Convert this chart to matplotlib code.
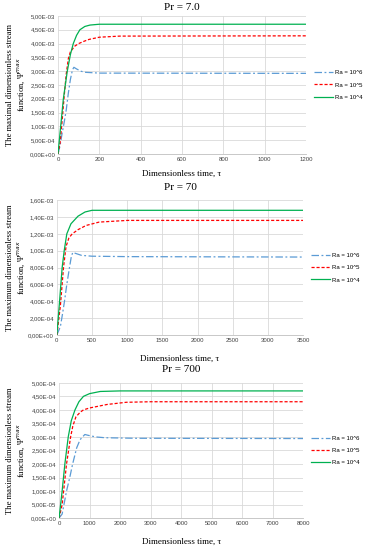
import matplotlib.pyplot as plt
from matplotlib.ticker import FixedLocator

# ---- data ----
series_labels = ['Ra = 10^6', 'Ra = 10^5', 'Ra = 10^4']

# Pr = 7.0  (values in 1e-3)
t7_ra6 = [0, 10, 20, 30, 40, 50, 60, 70, 77, 90, 110, 130, 200, 1200]
v7_ra6 = [0, 0.3, 0.75, 1.15, 1.6, 2.2, 2.7, 3.05, 3.14, 3.08, 3.0, 2.96, 2.93, 2.92]
t7_ra5 = [0, 10, 20, 30, 40, 50, 60, 80, 100, 125, 150, 200, 300, 1200]
v7_ra5 = [0, 0.4, 1.2, 2.1, 2.9, 3.45, 3.7, 3.9, 4.0, 4.08, 4.15, 4.23, 4.27, 4.28]
t7_ra4 = [0, 13, 26, 45, 60, 74, 90, 106, 130, 155, 200, 1200]
v7_ra4 = [0, 1.0, 2.0, 3.0, 3.6, 4.0, 4.3, 4.5, 4.62, 4.67, 4.7, 4.7]

# Pr = 70  (values in 1e-3)
t70_ra6 = [0, 50, 80, 108, 141, 179, 205, 226, 260, 350, 500, 1000, 3500]
v70_ra6 = [0, 0.1, 0.25, 0.4, 0.6, 0.8, 0.93, 0.98, 0.97, 0.945, 0.935, 0.93, 0.925]
t70_ra5 = [0, 50, 94, 130, 170, 217, 300, 415, 600, 1000, 3500]
v70_ra5 = [0, 0.35, 0.8, 1.05, 1.15, 1.2, 1.25, 1.3, 1.34, 1.36, 1.36]
t70_ra4 = [0, 38, 75, 104, 141, 200, 300, 400, 500, 3500]
v70_ra4 = [0, 0.4, 0.8, 1.0, 1.2, 1.32, 1.41, 1.46, 1.48, 1.48]

# Pr = 700  (values in 1e-4)
t700_ra6 = [0, 100, 244, 350, 444, 578, 689, 844, 950, 1200, 1500, 2500, 8000]
v700_ra6 = [0, 0.15, 1.0, 1.5, 2.0, 2.6, 2.9, 3.09, 3.06, 3.0, 2.97, 2.95, 2.94]
t700_ra5 = [0, 100, 244, 378, 450, 555, 700, 800, 1000, 1578, 2200, 3000, 8000]
v700_ra5 = [0, 0.5, 2.0, 3.0, 3.4, 3.75, 3.92, 4.0, 4.07, 4.2, 4.28, 4.3, 4.3]
t700_ra4 = [0, 100, 189, 300, 400, 522, 650, 800, 1000, 1350, 2000, 8000]
v700_ra4 = [0, 1.0, 2.0, 3.0, 3.6, 4.0, 4.3, 4.5, 4.6, 4.68, 4.7, 4.7]

yticks7 = [0, 0.5, 1.0, 1.5, 2.0, 2.5, 3.0, 3.5, 4.0, 4.5, 5.0]
ylabels7 = ['0,00E+00', '5,00E-04', '1,00E-03', '1,50E-03', '2,00E-03', '2,50E-03',
            '3,00E-03', '3,50E-03', '4,00E-03', '4,50E-03', '5,00E-03']
xticks7 = [0, 200, 400, 600, 800, 1000, 1200]

yticks70 = [0, 0.2, 0.4, 0.6, 0.8, 1.0, 1.2, 1.4, 1.6]
ylabels70 = ['0,00E+00', '2,00E-04', '4,00E-04', '6,00E-04', '8,00E-04',
             '1,00E-03', '1,20E-03', '1,40E-03', '1,60E-03']
xticks70 = [0, 500, 1000, 1500, 2000, 2500, 3000, 3500]

yticks700 = [0, 0.5, 1.0, 1.5, 2.0, 2.5, 3.0, 3.5, 4.0, 4.5, 5.0]
ylabels700 = ['0,00E+00', '5,00E-05', '1,00E-04', '1,50E-04', '2,00E-04', '2,50E-04',
              '3,00E-04', '3,50E-04', '4,00E-04', '4,50E-04', '5,00E-04']
xticks700 = [0, 1000, 2000, 3000, 4000, 5000, 6000, 7000, 8000]

BLUE = '#5B9BD5'
RED = '#FF0000'
GREEN = '#00B050'
SERIF = 'Liberation Serif'
SANS = 'Liberation Sans'


def draw_panel(fig, rect, series, xticks, yticks, ylabels, title, ylabel, title_y, xlabel_y):
    ax = fig.add_axes(rect)
    styles = [
        dict(color=BLUE, linestyle=(0, (6, 2, 1.5, 2)), lw=0.9),
        dict(color=RED, linestyle=(0, (2.5, 1.5)), lw=0.9),
        dict(color=GREEN, linestyle='-', lw=0.9),
    ]
    for (t, v), lab, st in zip(series, series_labels, styles):
        ax.plot(t, v, label=lab, **st)

    ax.set_xlim(xticks[0], xticks[-1])
    ax.set_ylim(yticks[0], yticks[-1])
    ax.xaxis.set_major_locator(FixedLocator(xticks))
    ax.yaxis.set_major_locator(FixedLocator(yticks))
    ax.set_xticklabels([str(x) for x in xticks], fontsize=4.3, family=SANS, color='#404040')
    ax.set_yticklabels(ylabels, fontsize=4.3, family=SANS, color='#404040')
    ax.tick_params(length=0, pad=2)
    ax.grid(True, color='#D9D9D9', lw=0.6)
    ax.set_axisbelow(True)
    for side in ['top', 'right', 'left']:
        ax.spines[side].set_visible(False)
    ax.spines['bottom'].set_color('#BFBFBF')
    ax.spines['bottom'].set_linewidth(0.6)

    ax.legend(loc='center left', bbox_to_anchor=(1.01, 0.5), frameon=False,
              prop={'family': SANS, 'size': 4.3}, handlelength=3.2, labelspacing=1.2,
              handletextpad=0.4)

    cx = rect[0] + rect[2] / 2
    fig.text(cx, title_y, title, ha='center', va='center', family=SERIF, fontsize=8)
    fig.text(cx, xlabel_y, 'Dimensionless time, \u03c4', ha='center', va='center',
             family=SERIF, fontsize=6.5)
    fig.text(0.045, rect[1] + rect[3] / 2, ylabel, ha='center', va='center', rotation=90,
             family=SERIF, fontsize=6.2, linespacing=1.1, multialignment='center')
    return ax


fig = plt.figure(figsize=(3.67, 5.5), dpi=100)

draw_panel(fig, [0.158, 0.72, 0.676, 0.251],
           [(t7_ra6, v7_ra6), (t7_ra5, v7_ra5), (t7_ra4, v7_ra4)],
           xticks7, yticks7, ylabels7, 'Pr = 7.0',
           'The maximal dimensionless stream\nfunction, \u03a8$^{max}$', 0.987, 0.684)

draw_panel(fig, [0.155, 0.391, 0.671, 0.245],
           [(t70_ra6, v70_ra6), (t70_ra5, v70_ra5), (t70_ra4, v70_ra4)],
           xticks70, yticks70, ylabels70, 'Pr = 70',
           'The maximum dimensionless stream\nfunction, \u03a8$^{max}$', 0.66, 0.347)

draw_panel(fig, [0.161, 0.058, 0.665, 0.246],
           [(t700_ra6, v700_ra6), (t700_ra5, v700_ra5), (t700_ra4, v700_ra4)],
           xticks700, yticks700, ylabels700, 'Pr = 700',
           'The maximum dimensionless stream\nfunction, \u03a8$^{max}$', 0.329, 0.0145)

fig.savefig('out.png', dpi=100)
